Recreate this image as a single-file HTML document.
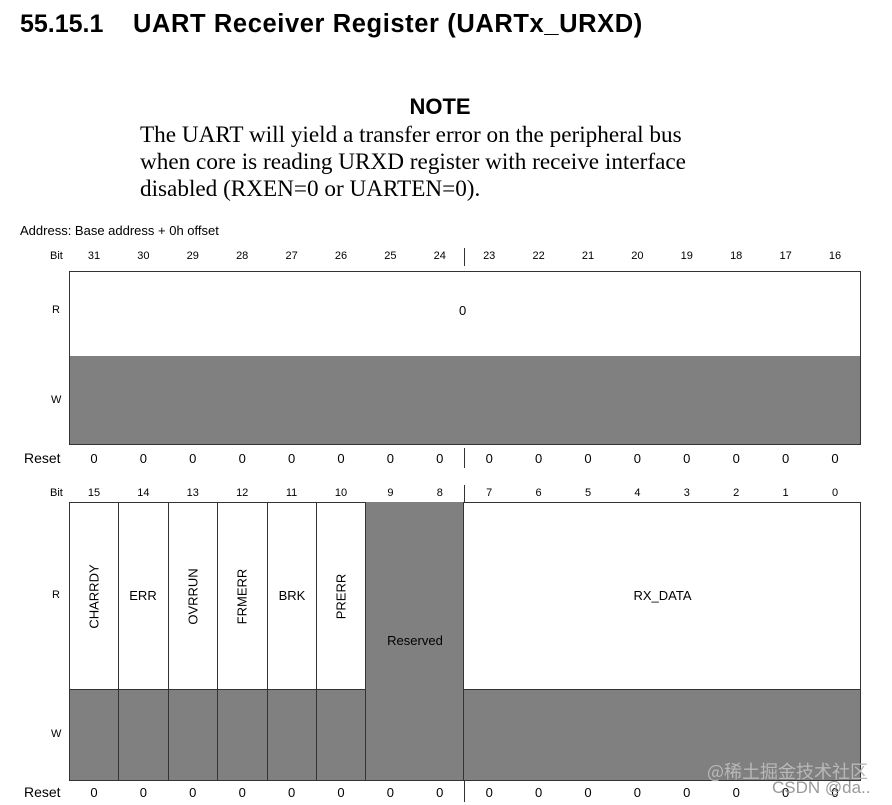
<!DOCTYPE html>
<html><head><meta charset="utf-8"><style>
body{margin:0;width:892px;height:805px;background:#fff;position:relative;overflow:hidden;font-family:"Liberation Sans",sans-serif;color:#000}
.a{position:absolute}
.c{position:absolute;font-size:11px;text-align:center;width:40px}
.r{position:absolute;font-size:13px;text-align:center;width:40px}
.v{position:absolute;font-size:13px;transform:rotate(-90deg);transform-origin:center;white-space:nowrap;text-align:center;width:100px}
</style></head><body>
<div class="a" style="left:20px;top:10px;font-size:25px;font-weight:bold;white-space:nowrap">55.15.1</div>
<div class="a" style="left:133px;top:10px;font-size:25.5px;font-weight:bold;white-space:nowrap;letter-spacing:0.6px">UART Receiver Register (UARTx_URXD)</div>
<div class="a" style="left:0;width:880px;top:94px;text-align:center;font-size:22px;font-weight:bold">NOTE</div>
<div class="a" style="left:140px;top:122px;font-family:'Liberation Serif',serif;font-size:23.2px;line-height:27px;white-space:nowrap">The UART will yield a transfer error on the peripheral bus<br>when core is reading URXD register with receive interface<br>disabled (RXEN=0 or UARTEN=0).</div>
<div class="a" style="left:20px;top:223px;font-size:13px">Address: Base address + 0h offset</div>

<div class="a" style="left:50px;top:250px;font-size:11px">Bit</div>
<div class="a" style="left:52px;top:304px;font-size:11px">R</div>
<div class="a" style="left:51px;top:394px;font-size:11px">W</div>
<div class="a" style="left:24px;top:450px;font-size:14px">Reset</div>
<div class="a" style="left:69px;top:271px;width:790px;height:84px;border:1px solid #333;background:#fff"></div>
<div class="a" style="left:69px;top:356px;width:790px;height:88px;border:1px solid #333;border-top:none;background:#808080"></div>
<div class="a" style="left:459px;top:303px;font-size:13px">0</div>
<div class="a" style="left:464px;top:248px;width:1px;height:18px;background:#333"></div>
<div class="a" style="left:464px;top:448px;width:1px;height:20px;background:#333"></div>

<div class="a" style="left:50px;top:487px;font-size:11px">Bit</div>
<div class="a" style="left:52px;top:589px;font-size:11px">R</div>
<div class="a" style="left:51px;top:728px;font-size:11px">W</div>
<div class="a" style="left:24px;top:784px;font-size:14px">Reset</div>
<div class="a" style="left:69px;top:502px;width:790px;height:187px;border:1px solid #333;border-bottom:none;background:#fff"></div>
<div class="a" style="left:69px;top:689px;width:790px;height:90px;border:1px solid #333;background:#808080"></div>
<div class="a" style="left:365px;top:502px;width:99px;height:278px;background:#808080;border-left:1px solid #333;border-right:1px solid #333;box-sizing:border-box"></div>
<div class="a" style="left:118px;top:502px;width:1px;height:278px;background:#333"></div>
<div class="a" style="left:168px;top:502px;width:1px;height:278px;background:#333"></div>
<div class="a" style="left:217px;top:502px;width:1px;height:278px;background:#333"></div>
<div class="a" style="left:267px;top:502px;width:1px;height:278px;background:#333"></div>
<div class="a" style="left:316px;top:502px;width:1px;height:278px;background:#333"></div>
<div class="a" style="left:464px;top:485px;width:1px;height:17px;background:#333"></div>
<div class="a" style="left:464px;top:780px;width:1px;height:22px;background:#333"></div>
<div class="v" style="left:44px;top:589px">CHARRDY</div>
<div class="a" style="left:118px;width:50px;top:588px;font-size:13px;text-align:center">ERR</div>
<div class="v" style="left:143px;top:589px">OVRRUN</div>
<div class="v" style="left:192px;top:589px">FRMERR</div>
<div class="a" style="left:267px;width:50px;top:588px;font-size:13px;text-align:center">BRK</div>
<div class="v" style="left:291px;top:589px">PRERR</div>
<div class="a" style="left:365px;width:100px;top:633px;font-size:13px;text-align:center">Reserved</div>
<div class="a" style="left:465px;width:395px;top:588px;font-size:13px;text-align:center">RX_DATA</div>

<div id="n"></div>
<script>
var h='';
for(var i=0;i<16;i++){var x=94+i*49.4-20;
h+='<div class="c" style="left:'+x+'px;top:250px">'+(31-i)+'</div>';
h+='<div class="c" style="left:'+x+'px;top:487px">'+(15-i)+'</div>';
h+='<div class="r" style="left:'+x+'px;top:451px">0</div>';
h+='<div class="r" style="left:'+x+'px;top:785px">0</div>';}
document.getElementById('n').innerHTML=h;
</script>
<div class="a" style="left:707px;top:758px;font-size:18px;color:#b8b8b8;font-family:'Noto Sans CJK SC','WenQuanYi Zen Hei',sans-serif">@稀土掘金技术社区</div>
<div class="a" style="left:772px;top:778px;font-size:17px;color:#9a9a9a">CSDN @da..</div>
</body></html>
